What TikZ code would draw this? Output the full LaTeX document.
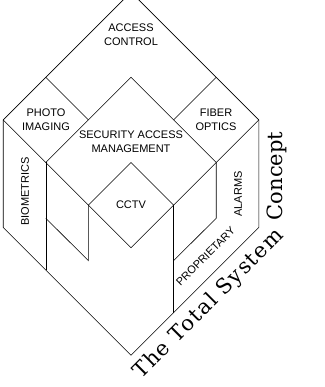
\documentclass[tikz,border=0pt]{standalone}
\usepackage{fontspec}
\newfontfamily\labelfont{Liberation Sans}
\newfontfamily\titlefont{DejaVu Serif}
\newfontfamily\titlefontwide[LetterSpace=7]{DejaVu Serif}
\begin{document}
\begin{tikzpicture}[x=1pt,y=-1pt,line width=0.6pt,line join=miter,
  lbl/.style={font=\labelfont\fontsize{11}{14}\selectfont,align=center,inner sep=0pt},
  ttl/.style={font=\titlefont\fontsize{21}{25}\selectfont,inner sep=0pt},
  ttlw/.style={font=\titlefontwide\fontsize{21}{25}\selectfont,inner sep=0pt}]
\useasboundingbox (0,0) rectangle (324,387);
\clip (0,0) rectangle (324,387);
% points
\coordinate (T) at (131,-7.9);
\coordinate (L) at (3.2,119.9);
\coordinate (R) at (258.8,119.9);
\coordinate (PT) at (45.8,77.3);
\coordinate (PR) at (88.4,119.9);
\coordinate (PB) at (45.8,162.5);
\coordinate (FT) at (216.2,77.3);
\coordinate (FL) at (173.6,119.9);
\coordinate (FB) at (216.2,162.5);
\coordinate (ST) at (131,77.3);
\coordinate (CT) at (131,162.5);
\coordinate (CL) at (88.4,205.1);
\coordinate (CR) at (173.6,205.1);
\coordinate (CB) at (131,247.7);
\coordinate (L2) at (3.2,227.5);
\coordinate (R2) at (258.8,227.5);
\coordinate (B) at (131,355.3);
\coordinate (BL) at (45.8,270.1);
\coordinate (BR) at (173.6,312.7);
\coordinate (ML1) at (45.8,218.3);
\coordinate (ML2) at (88.4,260.6);
\coordinate (MR1) at (216.2,218.3);
\coordinate (MR2) at (173.6,260.6);
% lines
\draw (L2) -- (L) -- (T) -- (R) -- (R2) -- (B) -- cycle;
\draw (PT) -- (PR);
\draw (FT) -- (FL);
\draw (L) -- (PB) -- (ST) -- (FB) -- (R);
\draw (PB) -- (CL) -- (CT) -- (CR) -- (FB);
\draw (CL) -- (CB) -- (CR);
\draw (PB) -- (BL);
\draw (ML1) -- (ML2) -- (CL);
\draw (FB) -- (MR1) -- (MR2);
\draw (CR) -- (BR);
% labels
\node[lbl] (ac) at (131,34.5) {ACCESS\\CONTROL};
\node[lbl] (pi) at (46,120) {PHOTO\\IMAGING};
\node[lbl] (fo) at (216,120) {FIBER\\OPTICS};
\node[lbl] (sam) at (131,142) {SECURITY ACCESS\\MANAGEMENT};
\node[lbl] (cctv) at (131,205) {CCTV};
\node[lbl,rotate=90] (bio) at (25,191.5) {BIOMETRICS};
\node[lbl,rotate=90] (alarms) at (238,194) {ALARMS};
\node[lbl,rotate=45] (prop) at (205.5,256.5) {PROPRIETARY};
\node[ttlw,rotate=45,anchor=base east] (tts) at (285,236) {The Total System};
\node[ttl,rotate=90,anchor=base west] (tc) at (282,220.5) {Concept};
\end{tikzpicture}
\end{document}
